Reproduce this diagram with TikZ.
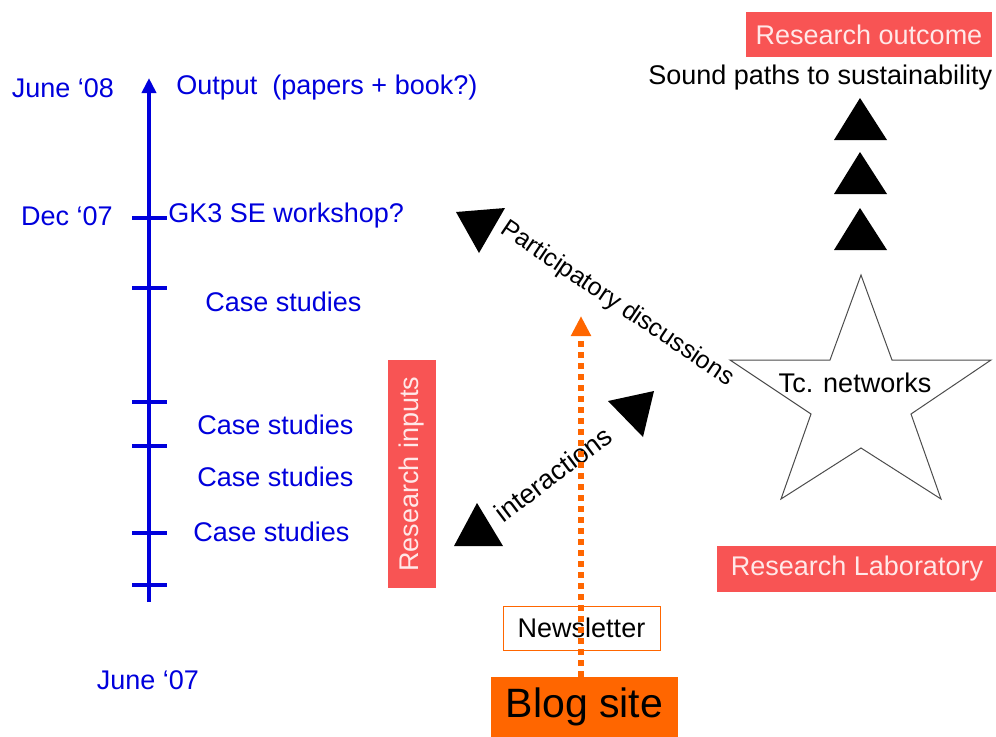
\documentclass[tikz,border=0pt]{standalone}
\usepackage{fontspec}
\setmainfont{Liberation Sans}
\usetikzlibrary{positioning}
\usetikzlibrary{arrows.meta}
\definecolor{tlblue}{RGB}{0,0,220}
\definecolor{labred}{RGB}{248,84,84}
\definecolor{paleink}{RGB}{255,232,232}
\definecolor{blogorange}{RGB}{255,102,0}

\begin{document}
\begin{tikzpicture}[x=0.5pt,y=-0.5pt,
    every node/.style={font=\fontsize{13.5}{16}\selectfont},
    timetext/.style={text=tlblue},
    stage/.style={text=tlblue, anchor=west, inner xsep=0pt},
    axisline/.style={draw=tlblue, line width=2pt},
    redbox/.style={fill=labred, text=paleink, inner sep=0pt},
    wedge/.style={fill=black}]
	\useasboundingbox (0,0) rectangle (996,736);

	% timeline
	\coordinate (tlbottom) at (149,602);
	\coordinate (tltop) at (149,78);
	\draw [axisline, -{Triangle[width=7pt,length=7.5pt]}] (tlbottom) to (tltop);
	\foreach \y in {218,288,402,446,533,585}
		\draw [axisline] (132,\y) to (167,\y);

	\node [timetext] (jun08) at (63,88) {June ‘08};
	\node [stage] (output) at (176,88) {Output~~(papers + book?)};
	\node [timetext] (dec07) at (67,216) {Dec ‘07};
	\node [stage] (workshop) at (168,216) {GK3 SE workshop?};
	\node [stage] (case1) at (205,302) {Case studies};
	\node [stage] (case2) at (197,425) {Case studies};
	\node [stage] (case3) at (197,477) {Case studies};
	\node [stage] (case4) at (193,532) {Case studies};
	\node [timetext] (jun07) at (148,680) {June ‘07};

	% outcome side
	\node [redbox, minimum width=123pt, minimum height=22.5pt] (outcome) at (869,34.5) {Research outcome};
	\node [anchor=west, inner xsep=0pt] (paths) at (648,78) {Sound paths to sustainability};
	\foreach \y in {98,152,208}
		\fill [wedge] (860,\y) -- (887,\y+42) -- (834,\y+42) -- cycle;

	% star
	\draw [gray!60!black, line width=0.5pt, fill=white] (861,275) -- (892,360) -- (991,360) -- (911,414) -- (941,499)
		-- (861,448) -- (781,499) -- (811,414) -- (730,360) -- (830,360) -- cycle;
	\node (tcnet) at (855,383) {Tc. networks};
	\node [redbox, minimum width=140pt, minimum height=23pt] (lab) at (857,569) {Research Laboratory};

	% exchanges
	\fill [wedge] (456,212) -- (505,208) -- (479,253) -- cycle;
	\node [rotate=-34, font=\fontsize{12.5}{15}\selectfont] (discuss) at (617,304) {Participatory discussions};
	\fill [wedge] (477,503) -- (503,546) -- (454,546) -- cycle;
	\fill [wedge] (608,401) -- (654,391) -- (643,437) -- cycle;
	\node [rotate=37] (interact) at (553,474) {interactions};
	\node [redbox, rotate=90, minimum width=114pt, minimum height=24pt] (inputs) at (412,474) {Research inputs};

	% blog
	\node [fill=blogorange, minimum width=93.5pt, minimum height=30pt, inner sep=0pt,
		font=\fontsize{20.5}{24}\selectfont] (blog) at (584.5,707) {Blog site};
	\node [draw=blogorange, line width=0.5pt, minimum width=78.5pt, minimum height=22pt, inner sep=0pt] (news) at (581.5,628) {Newsletter};
	\coordinate (blogtip) at (581,318);
	\draw [blogorange, line width=3pt, dash pattern=on 3pt off 2.5pt,
		-{Triangle[width=9.5pt,length=10pt,sep=-1pt]}] (blog.north -| blogtip) to (blogtip);
\end{tikzpicture}
\end{document}
